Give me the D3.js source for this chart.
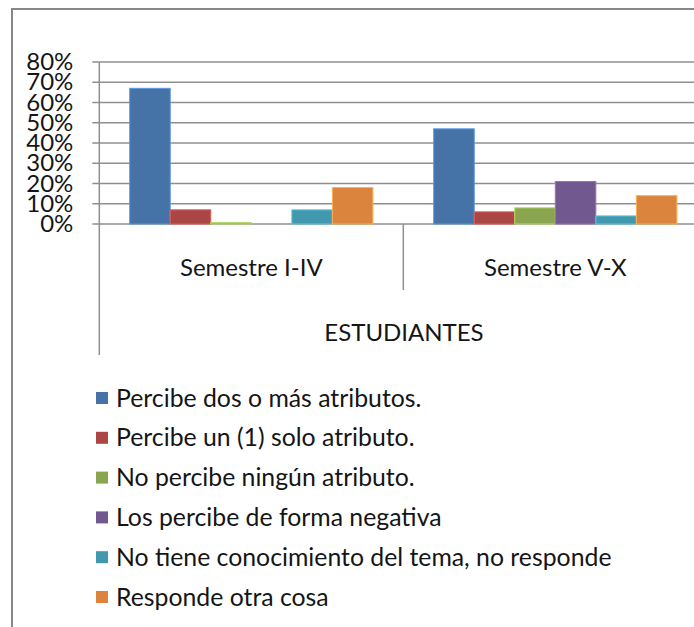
<!DOCTYPE html>
<html>
<head>
<meta charset="utf-8">
<script src="https://cdn.jsdelivr.net/npm/d3@7"></script>
<style>
  html, body { margin: 0; padding: 0; background: #fff; }
  svg text { font-family: Lato, "Open Sans", sans-serif; fill: #151515; }
</style>
</head>
<body>
<div id="chart"></div>
<script>
// values
const categories = ["Semestre I-IV", "Semestre V-X"];
const seriesNames = [
    "Percibe dos o más atributos.",
    "Percibe un (1) solo atributo.",
    "No percibe ningún atributo.",
    "Los percibe de forma negativa",
    "No tiene conocimiento del tema, no responde",
    "Responde otra cosa"
];
const semestreI_IV = [0.67, 0.07, 0.007, 0, 0.07, 0.18];
const semestreV_X = [0.47, 0.06, 0.08, 0.21, 0.04, 0.14];
const yTicks = [0, 0.1, 0.2, 0.3, 0.4, 0.5, 0.6, 0.7, 0.8];
const axisTitle = "ESTUDIANTES";

const colors = ["#4572A7", "#AA4643", "#89A54E", "#71588F", "#4198AF", "#DB843D"];

const width = 694, height = 627;
const fontSize = 24;
const legendFontSize = 24.8;

const svg = d3.select("#chart").append("svg")
    .attr("width", width).attr("height", height);

// outer frame (runs past right and bottom edge)
svg.append("rect")
    .attr("x", 12).attr("y", 9)
    .attr("width", 720).attr("height", 640)
    .attr("fill", "none").attr("stroke", "#888").attr("stroke-width", 2);

const plotLeft = 99.3, plotRight = 707.3;
const y = d3.scaleLinear().domain([0, 0.8]).range([224, 62]);
const x0 = d3.scaleBand().domain(categories).range([plotLeft, plotRight]).padding(0);
// excel gap width 150%
const barW = x0.bandwidth() / (seriesNames.length + 1.5);
const x1 = d3.scaleBand().domain(d3.range(seriesNames.length))
    .range([barW * 0.75, x0.bandwidth() - barW * 0.75]).padding(0);

// gridlines
svg.append("g")
    .selectAll("line")
    .data(yTicks)
    .enter()
    .append("line")
    .attr("x1", plotLeft - 7).attr("x2", width)
    .attr("y1", d => y(d)).attr("y2", d => y(d))
    .attr("stroke", "#8f8f8f").attr("stroke-width", 1.5);

// y axis labels
const yAxis = svg.append("g")
    .attr("transform", "translate(" + plotLeft + ",0)")
    .call(d3.axisLeft(y).tickValues(yTicks).tickFormat(d3.format(".0%")).tickSize(0).tickPadding(26));
yAxis.select(".domain").remove();
yAxis.selectAll("text")
    .attr("font-size", fontSize)
    .attr("font-family", null)
    .attr("fill", null);

// y axis line, goes down past the category labels
svg.append("line")
    .attr("x1", plotLeft).attr("x2", plotLeft)
    .attr("y1", y(0.8)).attr("y2", 355)
    .attr("stroke", "#8f8f8f").attr("stroke-width", 1.5);

// category separator tick
svg.append("line")
    .attr("x1", x0(categories[1])).attr("x2", x0(categories[1]))
    .attr("y1", y(0)).attr("y2", 290)
    .attr("stroke", "#8f8f8f").attr("stroke-width", 1.5);

// bars
const rows = [semestreI_IV, semestreV_X];
const groups = svg.append("g")
    .selectAll("g")
    .data(categories)
    .enter()
    .append("g")
    .attr("transform", d => "translate(" + x0(d) + ",0)");

groups.selectAll("rect")
    .data((d, i) => rows[i].map((v, j) => ({ v: v, j: j })))
    .enter()
    .append("rect")
    .attr("x", d => x1(d.j))
    .attr("y", d => y(d.v))
    .attr("width", x1.bandwidth())
    .attr("height", d => y(0) - y(d.v))
    .attr("fill", d => colors[d.j])
    .attr("stroke", d => d3.color(colors[d.j]).brighter(0.8))
    .attr("stroke-width", d => d.v > 0 ? 1 : 0);

// category labels
svg.append("g")
    .selectAll("text")
    .data(categories)
    .enter()
    .append("text")
    .attr("x", d => x0(d) + x0.bandwidth() / 2)
    .attr("y", 268)
    .attr("dy", "0.35em")
    .attr("text-anchor", "middle")
    .attr("font-size", fontSize)
    .text(d => d);

// axis title
svg.append("text")
    .attr("x", 404).attr("y", 333)
    .attr("dy", "0.35em")
    .attr("text-anchor", "middle")
    .attr("font-size", fontSize)
    .text(axisTitle);

// legend
const legend = svg.append("g")
    .selectAll("g")
    .data(seriesNames)
    .enter()
    .append("g")
    .attr("transform", (d, i) => "translate(96," + (398 + i * 39.8) + ")");
legend.append("rect")
    .attr("x", 0).attr("y", -6)
    .attr("width", 12).attr("height", 12)
    .attr("fill", (d, i) => colors[i]);
legend.append("text")
    .attr("x", 20).attr("y", 0)
    .attr("dy", "0.35em")
    .attr("font-size", legendFontSize)
    .text(d => d);
</script>
</body>
</html>
